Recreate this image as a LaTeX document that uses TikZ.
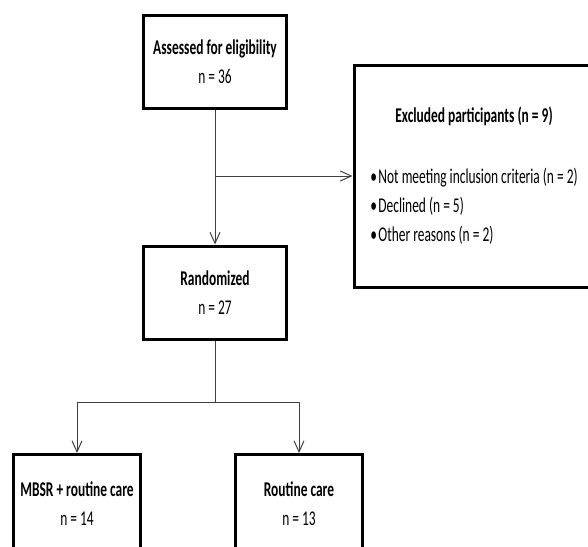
\documentclass[tikz,border=0pt]{standalone}
\usepackage{fontspec}
\setmainfont{Carlito}[FakeStretch=0.64]
\usetikzlibrary{arrows.meta,positioning}

\begin{document}
\begin{tikzpicture}[
  x=1pt, y=-1pt,
  stage/.style={draw=black, line width=3pt, fill=white, inner sep=0pt,
                minimum width=143pt, minimum height=93pt, align=center,
                font=\fontsize{21}{29}\selectfont},
  arm/.style={stage, minimum width=127pt, minimum height=99pt},
  drop/.style={stage, minimum width=240pt, minimum height=222pt},
  arrow/.style={-{Straight Barb[length=11pt,width=10pt]}, line width=1pt, black!75},
  link/.style={line width=1pt, black!75}
]
\useasboundingbox (0,0) rectangle (588,546);
\clip (0,0) rectangle (588,546);
\node[stage] (assessed) at (215,61.5)
  {\textbf{Assessed for eligibility}\\n = 36};
\node[stage] (randomized) at (215,292.5)
  {\textbf{Randomized}\\n = 27};
\node[drop] (excluded) at (474,176)
  {\begin{tabular}{@{}l@{}}
   \multicolumn{1}{c}{\textbf{Excluded participants (n = 9)}}\\[32pt]
   \textbullet\kern1.5pt Not meeting inclusion criteria (n = 2)\\
   \textbullet\kern1.5pt Declined (n = 5)\\
   \textbullet\kern1.5pt Other reasons (n = 2)
   \end{tabular}};
\node[arm] (mbsr) at (77,504)
  {\textbf{MBSR + routine care}\\n = 14};
\node[arm] (routine) at (299,504)
  {\textbf{Routine care}\\n = 13};
% flow between the boxes
\draw[arrow] (assessed) -- (randomized);
\coordinate (split) at (assessed.south |- excluded.west);
\draw[arrow] (split) -- (excluded.west);
\coordinate (fork) at (215,402);
\draw[link] (randomized.south) -- (fork);
\draw[arrow] (fork) -| (mbsr.north);
\draw[arrow] (fork) -| (routine.north);
\end{tikzpicture}
\end{document}
